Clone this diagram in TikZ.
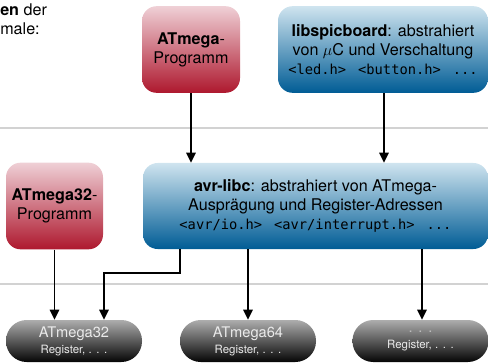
\documentclass[tikz,border=0pt]{standalone}
\usepackage{fontspec}
\setmainfont{TeX Gyre Heros}
\setmonofont{DejaVu Sans Mono}
\usepackage{xcolor}
\usetikzlibrary{arrows.meta}
\definecolor{progtop}{HTML}{EFD0D6}
\definecolor{progbot}{HTML}{AE182E}
\definecolor{libtop}{HTML}{CFE4EF}
\definecolor{libbot}{HTML}{005C95}
\definecolor{chiptop}{HTML}{ADADAD}
\definecolor{chipbot}{HTML}{050505}
\definecolor{chiptext}{HTML}{EAEAEA}
\definecolor{sepline}{HTML}{D2D2D2}
\pgfdeclareverticalshading{progshade}{100bp}{color(0bp)=(progbot); color(25bp)=(progbot); color(75bp)=(progtop); color(100bp)=(progtop)}
\pgfdeclareverticalshading{libshade}{100bp}{color(0bp)=(libbot); color(25bp)=(libbot); color(75bp)=(libtop); color(100bp)=(libtop)}
\pgfdeclareverticalshading{chipshade}{100bp}{color(0bp)=(chipbot); color(25bp)=(chipbot); color(75bp)=(chiptop); color(100bp)=(chiptop)}
\newcommand{\hdr}[1]{{\fontsize{10.3}{12}\selectfont\ttfamily #1}}
\newcommand{\hgap}{\hspace{9pt}}
\newcommand{\spdots}{.\kern0.4em.\kern0.4em.}

\begin{document}
\begin{tikzpicture}[x=0.75pt,y=-0.75pt,
		font=\fontsize{12.1}{14.4}\selectfont,
		box/.style={rounded corners=11pt,align=center,inner sep=2pt,minimum height=65pt},
		progbox/.style={box,shading=progshade},
		libbox/.style={box,shading=libshade},
		chip/.style={rounded corners=15.5pt,align=center,inner sep=1pt,minimum height=31.5pt,minimum width=102pt,
			shading=chipshade,text=chiptext,font=\fontsize{11}{13}\selectfont},
		dep/.style={line width=1.4pt,-{Triangle[width=7pt,length=7.5pt]}}]
		\useasboundingbox (0,0) rectangle (488,363);
		%
		% layers
		\draw[sepline,line width=1.5pt] (0,128) -- (488,128);
		\draw[sepline,line width=1.5pt] (0,284) -- (488,284);
		\node[anchor=north west,align=left,inner sep=0pt] (intro) at (0,3) {\textbf{en} der\\male:};
		%
		% programs
		\node[progbox,minimum width=73.5pt] (prog) at (191,49.5) {\textbf{ATmega}-\\Programm};
		\node[progbox,minimum width=72.75pt] (prog32) at (54.5,206) {\textbf{ATmega32}-\\Programm};
		%
		% libraries
		\node[libbox,minimum width=157.5pt] (spic) at (383,49.5) {\textbf{libspicboard}: abstrahiert\\von $\mu$C und Verschaltung\\
			\hdr{<led.h>}\hgap\hdr{<button.h>}\hgap\hdr{...}};
		\node[libbox,minimum width=258.75pt,minimum height=64.5pt] (avr) at (315.5,206) {\textbf{avr-libc}: abstrahiert von ATmega-\\Ausprägung und Register-Adressen\\
			\hdr{<avr/io.h>}\hgap\hdr{<avr/interrupt.h>}\hgap\hdr{...}};
		%
		% controllers
		\node[chip] (m32) at (74,341) {ATmega32\\[-1pt]{\fontsize{8.6}{10}\selectfont Register, \spdots}};
		\node[chip] (m64) at (248,341) {ATmega64\\[-1pt]{\fontsize{8.6}{10}\selectfont Register, \spdots}};
		\node[chip] (mx) at (420.5,341) {{\color{chiptop!80!white}\spdots}\\[-1pt]{\fontsize{8.6}{10}\selectfont Register, \spdots}};
		%
		% dependencies
		\draw[dep] (prog.south) -- (avr.north -| prog.south);
		\draw[dep] (spic.south -| 384,0) -- (avr.north -| 384,0);
		\draw[dep] (prog32.south) -- (m32.north -| prog32.south);
		\coordinate (bend) at (180,273);
		\draw[dep] (avr.south -| bend) -- (bend) -- (bend -| 104,0) -- (m32.north -| 104,0);
		\draw[dep] (avr.south -| m64.north) -- (m64.north);
		\draw[dep] (avr.south -| 422,0) -- (mx.north -| 422,0);
\end{tikzpicture}
\end{document}
